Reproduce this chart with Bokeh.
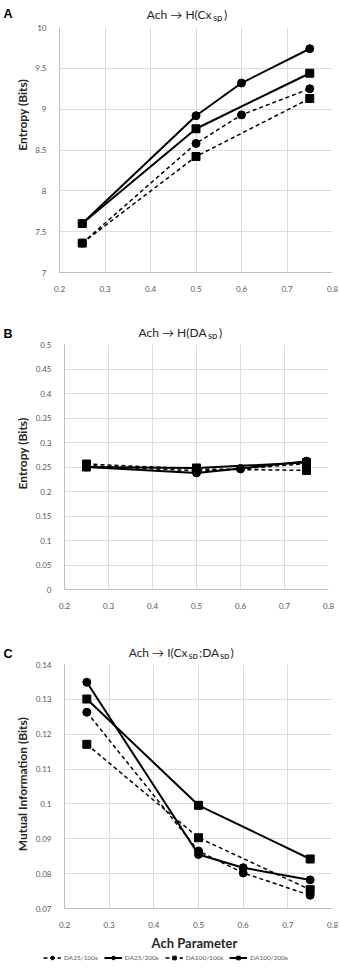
import math
from bokeh.plotting import figure
from bokeh.models import Legend, LegendItem, FixedTicker, Range1d
from bokeh.layouts import column, row
from bokeh.core.properties import value
from bokeh.embed import file_html
from bokeh.resources import INLINE

# ---------------- data ----------------
ach_25 = [0.25, 0.5, 0.6, 0.75]
ach_100 = [0.25, 0.5, 0.75]
series_names = ["DA25/100s", "DA25/200s", "DA100/100s", "DA100/200s"]

# Panel A: Ach -> H(Cx_sp)
a_da25_100 = [7.36, 8.58, 8.93, 9.25]
a_da25_200 = [7.60, 8.92, 9.32, 9.74]
a_da100_100 = [7.36, 8.42, 9.13]
a_da100_200 = [7.60, 8.76, 9.44]

# Panel B: Ach -> H(DA_sp)
b_da25_100 = [0.253, 0.242, 0.246, 0.257]
b_da25_200 = [0.250, 0.238, 0.247, 0.262]
b_da100_100 = [0.256, 0.246, 0.243]
b_da100_200 = [0.250, 0.248, 0.259]

# Panel C: Ach -> I(Cx_sp;DA_sp)
c_da25_100 = [0.1263, 0.0865, 0.0802, 0.0738]
c_da25_200 = [0.1349, 0.0855, 0.0817, 0.0782]
c_da100_100 = [0.1171, 0.0903, 0.0754]
c_da100_200 = [0.1301, 0.0996, 0.0842]

x_ticks = [0.2, 0.3, 0.4, 0.5, 0.6, 0.7, 0.8]
x_tick_labels = ["0.2", "0.3", "0.4", "0.5", "0.6", "0.7", "0.8"]
a_ticks = [7, 7.5, 8, 8.5, 9, 9.5, 10]
a_tick_labels = ["7", "7.5", "8", "8.5", "9", "9.5", "10"]
b_ticks = [0, 0.05, 0.1, 0.15, 0.2, 0.25, 0.3, 0.35, 0.4, 0.45, 0.5]
b_tick_labels = ["0", "0.05", "0.1", "0.15", "0.2", "0.25", "0.3", "0.35", "0.4", "0.45", "0.5"]
c_ticks = [0.07, 0.08, 0.09, 0.1, 0.11, 0.12, 0.13, 0.14]
c_tick_labels = ["0.07", "0.08", "0.09", "0.1", "0.11", "0.12", "0.13", "0.14"]

# ---------------- style ----------------
FONT = "Lato"
GRID = "#d9dce2"
AXIS = "#bfbfbf"
TICK_TXT = "#595959"
TXT = "#262626"
W = 340
STRIP = 32
MAIN_PX = 12
SUB_PX = 9.5
SUB_DROP = 2.5
STYLES = [
    dict(dash="4 3", marker="circle", width=1.5),
    dict(dash="solid", marker="circle", width=2.0),
    dict(dash="4 3", marker="square", width=1.5),
    dict(dash="solid", marker="square", width=2.0),
]


def blank_fig(w, h):
    p = figure(width=w, height=h, x_range=Range1d(0, w), y_range=Range1d(h, 0),
               output_backend="svg", toolbar_location=None,
               x_axis_location=None, y_axis_location=None, min_border=0)
    p.outline_line_color = None
    p.grid.visible = False
    p.background_fill_color = "white"
    p.border_fill_color = "white"
    return p


def put_text(p, x, y, text, size, bold=False, align="left", baseline="alphabetic",
             angle=0.0, font=FONT, color=TXT):
    p.text(x=[x], y=[y], text=[text], text_font=value(font), text_font_size=f"{size}px",
           text_font_style="bold" if bold else "normal", text_align=align,
           text_baseline=baseline, angle=angle, text_color=color)


def header(h, letter, letter_base, pieces, base):
    # pieces: (text, x, is_subscript, align)
    p = blank_fig(W, h)
    put_text(p, 3, letter_base, letter, 12.5, bold=True, font="Liberation Sans", color="black")
    for t, x, sub, align in pieces:
        put_text(p, x, base + (SUB_DROP if sub else 0), t, SUB_PX if sub else MAIN_PX, align=align)
    return p


def ylabel_strip(h, text, cy):
    p = blank_fig(STRIP, h)
    put_text(p, 22, cy, text, 12, bold=True, align="center", baseline="middle", angle=math.pi / 2)
    return p


def make_fig(height, bottom, left, right, yr, yticks, ylabels):
    p = figure(width=W - STRIP, height=height, x_range=Range1d(0.2, 0.8), y_range=Range1d(*yr),
               output_backend="svg", toolbar_location=None,
               min_border_top=5, min_border_bottom=bottom,
               min_border_left=left, min_border_right=right)
    p.outline_line_color = None
    p.background_fill_color = "white"
    p.border_fill_color = "white"
    p.xaxis.ticker = FixedTicker(ticks=x_ticks)
    p.xaxis.major_label_overrides = dict(zip(x_ticks, x_tick_labels))
    p.yaxis.ticker = FixedTicker(ticks=yticks)
    p.yaxis.major_label_overrides = dict(zip(yticks, ylabels))
    for ax in (p.xaxis, p.yaxis):
        ax.axis_line_color = AXIS
        ax.axis_line_width = 1
        ax.major_tick_line_color = None
        ax.minor_tick_line_color = None
        ax.major_label_text_font = FONT
        ax.major_label_text_font_size = "8px"
        ax.major_label_text_color = TICK_TXT
    p.xaxis.major_label_standoff = 7
    p.yaxis.major_label_standoff = 7
    p.xgrid.grid_line_color = GRID
    p.ygrid.grid_line_color = GRID
    p.xgrid.ticker = FixedTicker(ticks=x_ticks)
    p.ygrid.ticker = FixedTicker(ticks=yticks)
    return p


def draw_series(p, data):
    xs_list = [ach_25, ach_25, ach_100, ach_100]
    for xs, ys, st in zip(xs_list, data, STYLES):
        p.line(xs, ys, line_color="black", line_width=st["width"], line_dash=st["dash"])
        p.scatter(xs, ys, marker=st["marker"], size=8, fill_color="black", line_color="black")


# ---------------- Panel A ----------------
hA = header(22, "A", 13, [("Ach \u2192 H(Cx", 211, False, "right"), ("sp", 212.5, True, "left"),
                          (")", 223.5, False, "left")], 14)
pA = make_fig(296, 46, 26, 8, (7, 10), a_ticks, a_tick_labels)
draw_series(pA, [a_da25_100, a_da25_200, a_da100_100, a_da100_200])
sA = ylabel_strip(296, "Entropy (Bits)", 105.5)

# ---------------- Panel B ----------------
hB = header(21, "B", 15, [("Ach \u2192 H(DA", 206, False, "right"), ("sp", 207.5, True, "left"),
                          (")", 218.5, False, "left")], 14)
pB = make_fig(299, 49, 27, 12, (0, 0.5), b_ticks, b_tick_labels)
draw_series(pB, [b_da25_100, b_da25_200, b_da100_100, b_da100_200])
sB = ylabel_strip(299, "Entropy (Bits)", 133)

# ---------------- Panel C ----------------
hC = header(21, "C", 15, [("Ach \u2192 I(Cx", 187, False, "right"), ("sp", 188, True, "left"),
                          (";DA", 198.5, False, "left"), ("sp", 219.5, True, "left"),
                          (")", 230, False, "left")], 14)
pC = make_fig(271, 21, 30, 8, (0.07, 0.14), c_ticks, c_tick_labels)
draw_series(pC, [c_da25_100, c_da25_200, c_da100_100, c_da100_200])
sC = ylabel_strip(271, "Mutual Information (Bits)", 133)

# ---------------- footer: x label + legend ----------------
foot = blank_fig(W, 44)
put_text(foot, 194, 12, "Ach Parameter", 13, bold=True, align="center", baseline="middle")
nan = float("nan")
items = []
for name, st in zip(series_names, STYLES):
    l = foot.line([nan], [nan], line_color="black", line_width=st["width"], line_dash=st["dash"])
    s = foot.scatter([nan], [nan], marker=st["marker"], size=6, fill_color="black",
                     line_color="black")
    items.append(LegendItem(label=name, renderers=[l, s]))
legend = Legend(items=items, location=(43, 12), orientation="horizontal")
legend.label_text_font = FONT
legend.label_text_font_size = "6.5px"
legend.label_text_color = TICK_TXT
legend.glyph_width = 18
legend.glyph_height = 9
legend.label_standoff = 3
legend.label_height = 9
legend.spacing = 6
legend.padding = 0
legend.margin = 0
legend.border_line_color = None
legend.background_fill_alpha = 0
foot.add_layout(legend)

layout = column(hA, row(sA, pA), hB, row(sB, pB), hC, row(sC, pC), foot)
open("out.html", "w").write(file_html(layout, INLINE))
